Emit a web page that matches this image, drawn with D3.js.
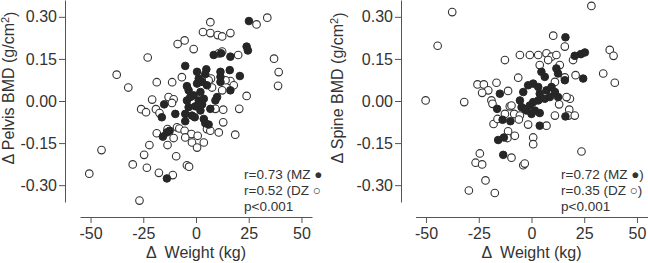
<!DOCTYPE html>
<html lang="en">
<head>
<meta charset="UTF-8">
<title>Weight change vs BMD change</title>
<script src="https://d3js.org/d3.v7.min.js"></script>
<style>
    body {
        margin: 0;
        background: #fff;
        font-family: "Liberation Sans", Arial, sans-serif;
    }
    svg text { fill: #333; }
    .axis path, .axis line { stroke: #555; }
    .axis text { font-size: 16px; fill: #333; font-family: "Liberation Sans", Arial, sans-serif; }
</style>
</head>
<body>
<div id="chart"></div>
<script>

// tick values
const xTicks = [-50, -25, 0, 25, 50];
const yTicks = [-0.30, -0.15, 0.00, 0.15, 0.30];

// pelvis panel: [delta weight (kg), delta BMD (g/cm2)]
const pelvisDZ = [
    [33.8,0.297],[28.7,0.273],[6.8,0.281],[3.3,0.246],[6.8,0.242],[10.3,0.235],[12.4,0.230],[16.3,0.242],
    [-5.4,0.216],[-8.7,0.203],[-1.1,0.185],[-22.9,0.155],[20.0,0.164],[10.8,0.170],[12.4,0.176],[37.0,0.151],
    [39.2,0.103],[38.9,0.054],[-37.6,0.094],[-32.1,0.048],[-18.6,0.067],[-11.3,0.067],[-6.7,0.085],[7.1,0.080],
    [16.3,0.071],[17.9,0.056],[24.0,0.018],[20.5,-0.028],[18.6,-0.120],[10.8,-0.112],[12.9,-0.076],[12.9,-0.031],
    [-20.8,0.005],[-13.0,0.014],[-10.6,0.006],[-11.4,-0.007],[-26.0,-0.029],[-23.7,-0.040],[-19.0,-0.029],[-17.3,-0.043],
    [-18.6,-0.115],[-13.5,-0.100],[-9.0,-0.094],[-7.9,-0.098],[-10.6,-0.132],[-13.5,-0.157],[-5.4,-0.106],[-2.2,-0.118],
    [0.8,-0.124],[-5.1,-0.130],[-1.9,-0.148],[0.5,-0.166],[3.7,-0.148],[5.2,-0.100],[6.8,-0.106],[-22.1,-0.157],
    [-24.6,-0.192],[-9.4,-0.197],[-44.8,-0.175],[-30.0,-0.226],[-23.3,-0.238],[-17.6,-0.256],[-11.0,-0.264],[-4.3,-0.229],
    [-3.3,-0.234],[-50.6,-0.259],[-26.8,-0.355],[6.0,0.074],[7.6,0.048],[14.0,0.074],[12.4,0.038],[9.2,-0.028]
];
const pelvisMZ = [
    [25.1,0.285],[24.0,0.194],[24.6,0.180],[8.4,0.164],[11.9,0.170],[16.3,0.158],[-5.1,0.125],[0.5,0.104],
    [4.9,0.113],[4.4,0.096],[11.6,0.104],[11.6,0.086],[16.0,0.110],[20.8,0.089],[11.6,0.068],[16.3,0.038],
    [-4.3,0.053],[0.5,0.062],[2.9,0.068],[5.2,0.056],[-3.5,0.038],[-1.1,0.020],[2.1,0.032],[-4.3,0.002],
    [1.3,0.002],[3.7,0.008],[-3.5,-0.022],[-0.3,-0.019],[2.1,-0.034],[6.8,-0.028],[10.0,0.014],[9.2,0.002],
    [-5.1,-0.046],[-1.9,-0.052],[-0.6,-0.058],[-5.1,-0.072],[3.7,-0.064],[4.4,-0.079],[6.0,-0.084],[-9.8,-0.046],
    [-15.1,-0.012],[-16.2,-0.058],[-13.8,-0.112],[-12.5,-0.106],[-15.7,-0.127],[-13.8,-0.276],[1.3,0.080],[-2.7,0.014],
    [2.9,-0.012]
];

// spine panel
const spineDZ = [
    [28.4,0.339],[-37.6,0.317],[-44.5,0.197],[-50.2,0.002],[-31.9,-0.004],[-25.6,0.059],[-22.6,0.059],[-20.5,0.038],
    [-23.4,0.029],[-16.6,0.065],[-12.6,0.146],[-6.3,0.083],[-5.5,0.164],[-0.8,0.164],[3.2,0.164],[7.1,0.170],
    [9.5,0.158],[11.8,0.164],[10.3,0.233],[15.8,0.194],[19.7,0.146],[37.1,0.182],[38.9,0.161],[34.0,0.098],
    [39.5,0.065],[20.9,0.092],[3.9,0.128],[7.9,0.146],[13.4,0.128],[11.1,0.068],[15.8,0.084],[-11.1,0.036],
    [-19.0,0.002],[-18.5,-0.010],[-18.0,-0.082],[-16.1,-0.064],[-10.3,-0.019],[-12.6,-0.046],[-8.2,-0.046],[-11.1,-0.108],
    [-11.4,-0.132],[-7.9,-0.124],[-5.5,-0.052],[-1.6,-0.084],[0.8,-0.130],[0.8,-0.154],[7.1,-0.088],[11.1,-0.052],
    [13.1,-0.012],[18.2,0.008],[17.9,-0.031],[17.5,-0.052],[20.5,-0.052],[23.7,-0.180],[-24.5,-0.187],[-26.5,-0.220],
    [-23.4,-0.226],[-21.8,-0.283],[-29.7,-0.319],[-17.4,-0.328],[-9.5,-0.202],[-3.9,-0.229],[-3.2,-0.223],[16.6,0.014],
    [-9.5,-0.016],[-6.0,-0.066]
];
const spineMZ = [
    [16.1,0.227],[20.5,0.161],[23.4,0.167],[25.3,0.173],[24.5,0.080],[16.1,-0.055],[-15.0,0.026],[-16.3,-0.028],
    [-13.7,-0.067],[-10.0,-0.072],[-15.8,-0.139],[-13.1,-0.130],[-13.4,-0.192],[4.7,0.104],[6.3,0.086],[11.8,0.116],
    [12.6,0.098],[15.8,0.074],[-3.9,0.032],[-1.6,0.056],[0.8,0.062],[3.2,0.050],[3.9,0.026],[7.1,0.038],
    [9.5,0.050],[11.1,0.032],[6.3,0.008],[3.2,0.002],[0.8,-0.004],[-0.8,-0.016],[-5.5,0.002],[-4.7,-0.022],
    [-2.4,-0.034],[1.6,-0.034],[3.9,-0.043],[-3.2,-0.028],[0.0,-0.046],[3.9,-0.088],[12.6,0.014],[8.7,0.014]
];

const panels = [
    { site: "Pelvis", dz: pelvisDZ, mz: pelvisMZ, stats: ["r=0.73 (MZ \u25CF", "r=0.52 (DZ \u25CB", "p<0.001"],
      clipX: 0, clipW: 322, axisX: 65, xRange: [80, 312], titleX: 14, statX: 244 },
    { site: "Spine", dz: spineDZ, mz: spineMZ, stats: ["r=0.72 (MZ \u25CF)", "r=0.35 (DZ \u25CB)", "p<0.001"],
      clipX: 322, clipW: 326, axisX: 401, xRange: [415.5, 647.5], titleX: 343, statX: 561 }
];

const W = 648, H = 263;
const svg = d3.select("#chart").append("svg")
    .attr("width", W)
    .attr("height", H);

const yScale = d3.scaleLinear().domain([-0.36, 0.36]).range([202, 0]);
const xAxisY = 217;

panels.forEach((p, i) => {
    svg.append("clipPath").attr("id", `clip${i}`)
        .append("rect").attr("x", p.clipX).attr("y", 0)
        .attr("width", p.clipW).attr("height", H);

    const g = svg.append("g").attr("clip-path", `url(#clip${i})`);

    const xScale = d3.scaleLinear().domain([-55, 55]).range(p.xRange);

    g.append("g")
        .attr("class", "axis")
        .attr("transform", `translate(${p.axisX},0)`)
        .call(d3.axisLeft(yScale).tickValues(yTicks).tickSize(6).tickSizeOuter(0).tickPadding(2)
            .tickFormat(d => d.toFixed(2)));

    g.append("g")
        .attr("class", "axis")
        .attr("transform", `translate(0,${xAxisY})`)
        .call(d3.axisBottom(xScale).tickValues(xTicks).tickSize(6).tickSizeOuter(0).tickPadding(5)
            .tickFormat(d => String(d)));

    // DZ open circles, MZ filled on top
    g.selectAll(".dz").data(p.dz).enter().append("circle")
        .attr("cx", d => xScale(d[0]))
        .attr("cy", d => yScale(d[1]))
        .attr("r", 3.8)
        .attr("fill", "#fff")
        .attr("stroke", "#333")
        .attr("stroke-width", 1.1);

    g.selectAll(".mz").data(p.mz).enter().append("circle")
        .attr("cx", d => xScale(d[0]))
        .attr("cy", d => yScale(d[1]))
        .attr("r", 3.8)
        .attr("fill", "#262626")
        .attr("stroke", "#262626")
        .attr("stroke-width", 1);

    // axis titles
    const yt = g.append("text")
        .attr("transform", `translate(${p.titleX},88) rotate(-90)`)
        .attr("text-anchor", "middle")
        .style("font-size", "16px");
    yt.append("tspan").text(`\u0394 ${p.site} BMD (g/cm`);
    yt.append("tspan").attr("dy", "-0.45em").style("font-size", "11px").text("2");
    yt.append("tspan").attr("dy", "0.45em").text(")");

    g.append("text")
        .attr("x", (p.xRange[0] + p.xRange[1]) / 2)
        .attr("y", 258)
        .attr("text-anchor", "middle")
        .style("font-size", "16px")
        .style("white-space", "pre")
        .text("\u0394  Weight (kg)");

    p.stats.forEach((s, k) => {
        g.append("text")
            .attr("x", p.statX)
            .attr("y", 179 + k * 16)
            .style("font-size", "13.5px")
            .text(s);
    });
});
</script>
</body>
</html>
